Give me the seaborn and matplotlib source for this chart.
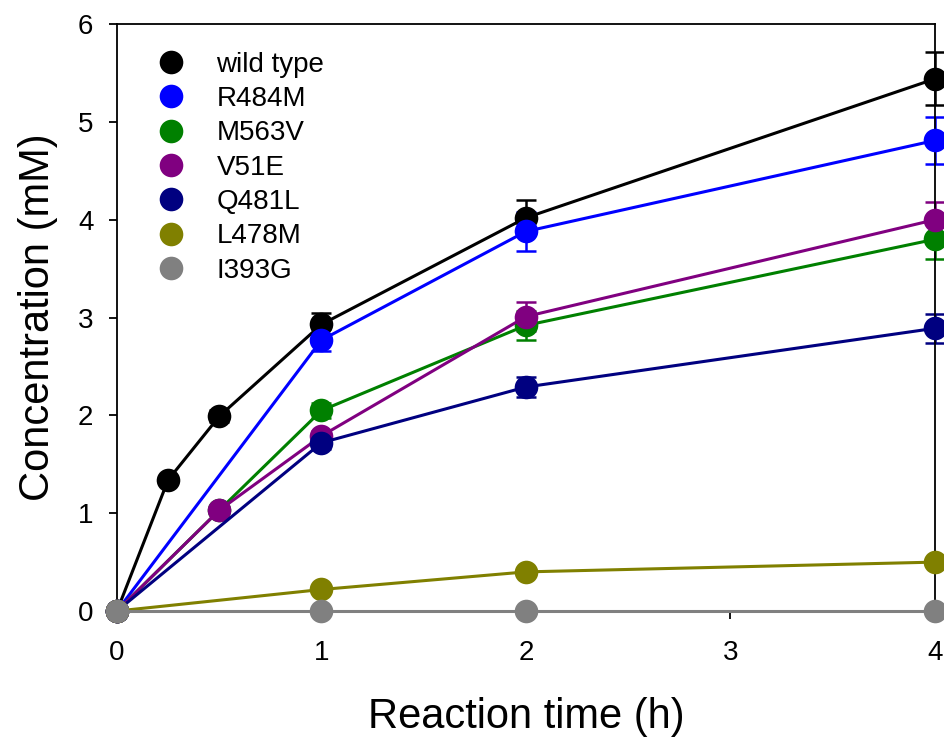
import numpy as np
import pandas as pd
import matplotlib
matplotlib.use('Agg')
import matplotlib.pyplot as plt
import seaborn as sns
from matplotlib.lines import Line2D

# values
names = ['wild type', 'R484M', 'M563V', 'V51E', 'Q481L', 'L478M', 'I393G']
colors = ['#000000', '#0000FF', '#008000', '#800080', '#000080', '#808000', '#808080']

wt_x = [0, 0.25, 0.5, 1, 2, 4]
wt_y = [0, 1.34, 1.99, 2.93, 4.02, 5.44]
wt_err = [0, 0.03, 0.06, 0.12, 0.18, 0.27]

r484m_x = [0, 1, 2, 4]
r484m_y = [0, 2.77, 3.88, 4.81]
r484m_err = [0, 0.11, 0.20, 0.24]

m563v_x = [0, 0.5, 1, 2, 4]
m563v_y = [0, 1.03, 2.05, 2.92, 3.80]
m563v_err = [0, 0.03, 0.08, 0.15, 0.20]

v51e_x = [0, 0.5, 1, 2, 4]
v51e_y = [0, 1.03, 1.79, 3.01, 4.00]
v51e_err = [0, 0.03, 0.05, 0.15, 0.18]

q481l_x = [0, 1, 2, 4]
q481l_y = [0, 1.72, 2.29, 2.89]
q481l_err = [0, 0.06, 0.10, 0.15]

l478m_x = [0, 1, 2, 4]
l478m_y = [0, 0.22, 0.40, 0.50]
l478m_err = [0, 0.01, 0.02, 0.02]

i393g_x = [0, 1, 2, 4]
i393g_y = [0, 0, 0, 0]
i393g_err = [0, 0, 0, 0]

all_x = [wt_x, r484m_x, m563v_x, v51e_x, q481l_x, l478m_x, i393g_x]
all_y = [wt_y, r484m_y, m563v_y, v51e_y, q481l_y, l478m_y, i393g_y]
all_err = [wt_err, r484m_err, m563v_err, v51e_err, q481l_err, l478m_err, i393g_err]

rows = []
for name, xs, ys, es in zip(names, all_x, all_y, all_err):
    for x, y, e in zip(xs, ys, es):
        rows.append({'variant': name, 'time': x, 'conc': y, 'err': e})
df = pd.DataFrame(rows)

sns.set_style('ticks')
plt.rcParams['font.family'] = ['Liberation Sans', 'DejaVu Sans']
plt.rcParams['text.color'] = 'black'
plt.rcParams['axes.labelcolor'] = 'black'
plt.rcParams['xtick.color'] = 'black'
plt.rcParams['ytick.color'] = 'black'
plt.rcParams['axes.edgecolor'] = 'black'

fig = plt.figure(figsize=(9.45, 7.4), dpi=100)
ax = fig.add_axes([0.1238, 0.1743, 0.8656, 0.7932])

palette = dict(zip(names, colors))
sns.lineplot(data=df, x='time', y='conc', hue='variant', hue_order=names,
             palette=palette, errorbar=None, marker='o', markersize=17,
             markeredgewidth=0, linewidth=2.2, legend=False, ax=ax,
             clip_on=False, zorder=3)

for name, c in zip(names, colors):
    d = df[df['variant'] == name]
    ax.errorbar(d['time'], d['conc'], yerr=d['err'], fmt='none', ecolor=c,
                elinewidth=1.8, capsize=7, capthick=1.8, clip_on=False, zorder=2)

ax.set_xlim(0, 4)
ax.set_ylim(0, 6)
ax.set_xticks([0, 1, 2, 3, 4])
ax.set_yticks([0, 1, 2, 3, 4, 5, 6])
ax.tick_params(direction='out', length=6, width=1.3, labelsize=20)
ax.tick_params(axis='x', pad=15)
ax.tick_params(axis='y', pad=11)
for s in ax.spines.values():
    s.set_linewidth(1.3)
    s.set_visible(True)

ax.set_xlabel('Reaction time (h)', fontsize=30, labelpad=22)
ax.set_ylabel('Concentration (mM)', fontsize=30, labelpad=14)

handles = [Line2D([], [], linestyle='none', marker='o', markersize=17,
                  markerfacecolor=c, markeredgewidth=0) for c in colors]
ax.legend(handles, names, loc='upper left', bbox_to_anchor=(0.018, 0.972),
          frameon=False, fontsize=20, handletextpad=0.65, labelspacing=0.3,
          borderaxespad=0)

fig.savefig('out.png', dpi=100)
